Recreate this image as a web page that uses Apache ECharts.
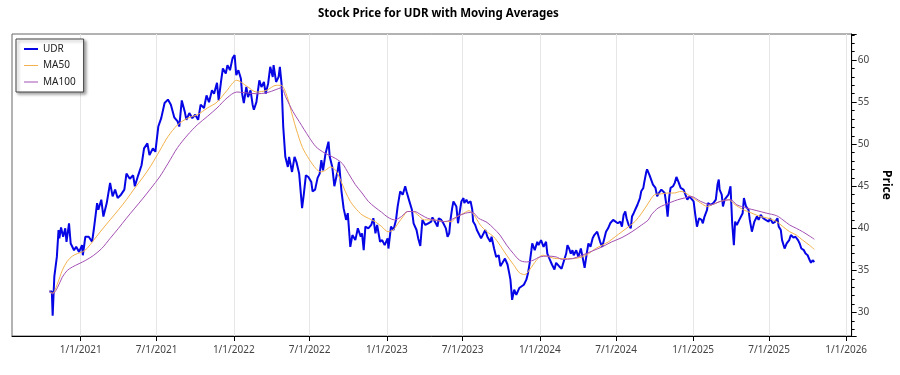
<!DOCTYPE html>
<html>
<head>
<meta charset="utf-8">
<title>UDR moving averages</title>
<script src="https://cdn.jsdelivr.net/npm/echarts@6/dist/echarts.min.js"></script>
<style>
  html, body { margin: 0; padding: 0; background: #fff; }
  #chart { width: 900px; height: 375px; }
</style>
</head>
<body>
<div id="chart"></div>
<script>
// closing prices (roughly one point every few days)
const udrDates = [
  "2020-10-18","2020-10-24","2020-10-26","2020-10-30","2020-11-03","2020-11-05","2020-11-09","2020-11-11","2020-11-15","2020-11-20",
  "2020-11-25","2020-11-28","2020-12-04","2020-12-08","2020-12-16","2020-12-21","2020-12-28","2021-01-04","2021-01-06","2021-01-12",
  "2021-01-20","2021-01-28","2021-02-01","2021-02-09","2021-02-12","2021-02-19","2021-02-24","2021-03-04","2021-03-12","2021-03-18",
  "2021-03-24","2021-03-30","2021-04-07","2021-04-15","2021-04-20","2021-04-28","2021-05-06","2021-05-10","2021-05-18","2021-05-26",
  "2021-06-01","2021-06-09","2021-06-14","2021-06-22","2021-06-28","2021-07-05","2021-07-12","2021-07-20","2021-07-28","2021-08-04",
  "2021-08-12","2021-08-20","2021-08-24","2021-08-30","2021-09-06","2021-09-10","2021-09-17","2021-09-24","2021-10-01","2021-10-08",
  "2021-10-14","2021-10-22","2021-10-28","2021-11-03","2021-11-10","2021-11-15","2021-11-22","2021-11-26","2021-12-02","2021-12-06",
  "2021-12-13","2021-12-17","2021-12-23","2021-12-29","2022-01-03","2022-01-07","2022-01-12","2022-01-18","2022-01-21","2022-01-25",
  "2022-01-31","2022-02-04","2022-02-10","2022-02-15","2022-02-18","2022-02-24","2022-03-03","2022-03-08","2022-03-14","2022-03-18",
  "2022-03-24","2022-03-29","2022-04-04","2022-04-06","2022-04-12","2022-04-18","2022-04-21","2022-04-25","2022-04-29","2022-05-04",
  "2022-05-10","2022-05-13","2022-05-20","2022-05-26","2022-05-31","2022-06-06","2022-06-13","2022-06-17","2022-06-22","2022-06-28",
  "2022-07-05","2022-07-08","2022-07-14","2022-07-20","2022-07-25","2022-07-29","2022-08-02","2022-08-08","2022-08-15","2022-08-18",
  "2022-08-24","2022-08-29","2022-09-06","2022-09-09","2022-09-15","2022-09-20","2022-09-26","2022-09-30","2022-10-06","2022-10-11",
  "2022-10-18","2022-10-24","2022-10-31","2022-11-03","2022-11-07","2022-11-11","2022-11-18","2022-11-25","2022-11-30","2022-12-05",
  "2022-12-09","2022-12-16","2022-12-21","2022-12-27","2023-01-03","2023-01-05","2023-01-11","2023-01-17","2023-01-23","2023-01-27",
  "2023-02-02","2023-02-08","2023-02-14","2023-02-17","2023-02-24","2023-03-02","2023-03-06","2023-03-13","2023-03-17","2023-03-22",
  "2023-03-27","2023-04-03","2023-04-10","2023-04-17","2023-04-20","2023-04-28","2023-05-02","2023-05-05","2023-05-11","2023-05-16",
  "2023-05-22","2023-05-26","2023-05-30","2023-06-02","2023-06-06","2023-06-09","2023-06-16","2023-06-20","2023-06-23","2023-06-28",
  "2023-07-03","2023-07-05","2023-07-10","2023-07-14","2023-07-20","2023-07-24","2023-07-26","2023-07-31","2023-08-04","2023-08-08",
  "2023-08-14","2023-08-18","2023-08-24","2023-08-29","2023-09-05","2023-09-08","2023-09-14","2023-09-19","2023-09-25","2023-09-29",
  "2023-10-04","2023-10-10","2023-10-16","2023-10-20","2023-10-23","2023-10-27","2023-11-01","2023-11-06","2023-11-13","2023-11-17",
  "2023-11-24","2023-11-30","2023-12-04","2023-12-08","2023-12-12","2023-12-14","2023-12-20","2023-12-26","2023-12-29","2024-01-04",
  "2024-01-10","2024-01-16","2024-01-19","2024-01-24","2024-01-30","2024-02-05","2024-02-09","2024-02-16","2024-02-22","2024-02-28",
  "2024-03-04","2024-03-07","2024-03-11","2024-03-15","2024-03-19","2024-03-22","2024-03-28","2024-04-02","2024-04-08","2024-04-12",
  "2024-04-17","2024-04-22","2024-04-26","2024-05-01","2024-05-06","2024-05-10","2024-05-17","2024-05-21","2024-05-24","2024-05-29",
  "2024-06-03","2024-06-07","2024-06-12","2024-06-17","2024-06-24","2024-06-28","2024-07-05","2024-07-11","2024-07-15","2024-07-19",
  "2024-07-23","2024-07-26","2024-07-31","2024-08-05","2024-08-08","2024-08-12","2024-08-16","2024-08-21","2024-08-27","2024-08-30",
  "2024-09-04","2024-09-06","2024-09-11","2024-09-13","2024-09-19","2024-09-23","2024-09-27","2024-10-03","2024-10-07","2024-10-11",
  "2024-10-17","2024-10-21","2024-10-25","2024-10-29","2024-11-01","2024-11-05","2024-11-08","2024-11-14","2024-11-18","2024-11-22",
  "2024-11-27","2024-12-02","2024-12-09","2024-12-13","2024-12-18","2024-12-23","2024-12-26","2025-01-02","2025-01-06","2025-01-10",
  "2025-01-15","2025-01-21","2025-01-24","2025-01-28","2025-02-03","2025-02-05","2025-02-12","2025-02-18","2025-02-24","2025-02-28",
  "2025-03-03","2025-03-05","2025-03-10","2025-03-13","2025-03-17","2025-03-21","2025-03-26","2025-03-31","2025-04-02","2025-04-04",
  "2025-04-08","2025-04-11","2025-04-15","2025-04-21","2025-04-25","2025-04-29","2025-05-02","2025-05-07","2025-05-13","2025-05-16",
  "2025-05-21","2025-05-27","2025-06-02","2025-06-06","2025-06-11","2025-06-17","2025-06-23","2025-06-30","2025-07-03","2025-07-10",
  "2025-07-16","2025-07-21","2025-07-24","2025-07-29","2025-08-01","2025-08-07","2025-08-12","2025-08-18","2025-08-22","2025-08-28",
  "2025-09-02","2025-09-08","2025-09-12","2025-09-16","2025-09-22","2025-09-26","2025-10-01","2025-10-06","2025-10-09","2025-10-13",
  "2025-10-17"
];
const udrPrices = [
  32.5,32.5,29.6,34.3,34.5,36.6,39.8,38.8,40.1,39.0,
  40.0,38.4,40.6,38.2,37.4,37.8,37.2,38.0,36.8,39.0,
  39.0,38.4,39.8,43.0,42.2,43.4,41.4,43.0,45.4,43.8,
  44.6,43.6,44.0,44.6,46.5,45.9,46.3,45.0,46.3,47.5,
  49.5,50.1,48.7,49.5,49.1,52.1,53.1,54.9,55.3,54.7,
  53.2,52.7,52.1,55.2,53.9,52.9,53.7,53.1,53.5,52.9,
  54.7,54.3,55.8,55.0,56.4,56.0,57.3,55.2,57.6,59.0,
  58.4,59.4,58.8,60.2,60.6,58.2,58.8,57.8,56.0,54.9,
  56.8,55.6,56.4,54.7,54.1,55.0,57.6,56.8,57.4,56.0,
  57.2,59.2,58.0,59.4,57.4,58.0,59.2,57.2,52.1,48.5,
  47.3,48.5,46.7,48.5,47.8,46.5,42.4,44.0,46.3,46.1,
  45.5,44.4,44.6,46.0,46.5,48.1,46.9,48.9,50.3,48.5,
  47.3,45.0,46.9,47.9,44.4,42.4,41.0,41.8,37.8,39.2,
  38.6,40.0,39.0,39.4,37.4,40.2,40.0,40.4,41.2,39.4,
  40.4,38.4,38.6,38.0,38.8,37.6,40.2,39.8,41.0,42.6,
  44.4,44.0,45.0,44.4,43.2,42.2,40.6,39.8,38.8,37.9,
  41.0,40.4,40.6,40.8,41.3,40.6,40.2,41.2,41.0,40.6,
  40.0,39.0,39.4,41.0,42.4,43.2,42.6,40.6,41.6,43.2,
  43.6,43.0,43.4,43.0,43.2,42.2,40.8,40.4,39.8,40.0,
  38.8,38.6,39.8,39.0,38.4,39.0,37.6,36.6,36.8,35.5,
  35.9,36.4,35.7,34.7,33.9,31.5,32.7,32.1,32.9,33.1,
  33.3,33.9,34.7,35.9,37.4,38.2,37.4,38.4,38.0,38.6,
  37.8,38.4,37.0,36.4,35.7,35.1,35.9,35.5,35.2,36.2,
  37.0,38.0,37.6,37.0,37.4,36.8,37.4,36.6,37.6,36.6,
  35.3,37.0,38.2,37.8,38.8,39.2,39.6,39.4,38.4,37.8,
  38.8,39.6,40.0,40.6,41.0,40.9,40.6,40.8,40.2,41.6,
  42.0,41.2,40.4,40.0,41.4,41.8,41.6,42.8,43.6,44.4,
  44.8,45.4,46.7,47.0,46.3,46.1,45.2,44.8,43.8,44.2,
  44.6,44.4,44.2,42.8,41.4,43.8,44.8,45.0,45.4,46.1,
  45.5,44.8,44.6,44.7,43.4,43.8,43.6,43.2,41.6,40.2,
  41.2,41.0,40.6,41.4,42.2,43.0,42.8,43.0,43.4,45.2,
  45.8,44.6,44.0,42.6,43.4,43.6,44.0,45.0,45.2,40.6,
  38.0,40.8,40.4,41.0,41.2,41.8,43.6,42.6,42.2,41.0,
  39.6,40.8,41.4,41.0,41.6,41.2,41.0,40.8,41.2,40.6,
  40.8,41.2,40.2,39.8,38.6,37.6,38.2,38.6,39.2,38.9,
  39.0,38.6,38.2,37.6,37.4,37.0,36.8,36.2,35.9,36.2,
  36.0
];

// 50 day moving average
const ma50Dates = [
  "2020-10-18","2020-10-26","2020-11-07","2020-11-18","2020-11-30","2020-12-12","2020-12-24","2021-01-05","2021-01-16","2021-02-01",
  "2021-02-20","2021-03-12","2021-04-01","2021-04-20","2021-05-10","2021-05-30","2021-06-18","2021-07-08","2021-07-28","2021-08-20",
  "2021-09-13","2021-10-06","2021-10-30","2021-11-22","2021-12-16","2022-01-08","2022-02-01","2022-02-24","2022-03-20","2022-04-12",
  "2022-04-24","2022-05-06","2022-05-22","2022-05-30","2022-06-14","2022-06-30","2022-07-16","2022-07-28","2022-08-08","2022-08-20",
  "2022-09-01","2022-09-13","2022-09-24","2022-10-06","2022-10-18","2022-11-03","2022-11-18","2022-12-04","2022-12-20","2023-01-04",
  "2023-01-16","2023-01-28","2023-02-09","2023-02-20","2023-03-04","2023-03-16","2023-04-01","2023-04-24","2023-05-18","2023-06-03",
  "2023-06-18","2023-07-04","2023-07-16","2023-07-28","2023-08-12","2023-08-28","2023-09-13","2023-09-28","2023-10-14","2023-10-30",
  "2023-11-14","2023-11-26","2023-12-08","2023-12-24","2024-01-08","2024-01-24","2024-02-09","2024-02-24","2024-03-19","2024-04-11",
  "2024-04-27","2024-05-13","2024-05-29","2024-06-13","2024-06-29","2024-07-15","2024-07-31","2024-08-15","2024-08-31","2024-09-16",
  "2024-10-01","2024-10-17","2024-11-02","2024-11-17","2024-12-03","2024-12-26","2025-01-19","2025-02-04","2025-02-19","2025-03-07",
  "2025-03-27","2025-04-11","2025-05-01","2025-05-21","2025-06-10","2025-06-29","2025-07-19","2025-08-03","2025-08-19","2025-09-04",
  "2025-09-19","2025-10-05","2025-10-17"
];
const ma50Values = [
  32.5,32.3,33.5,35.0,36.1,36.7,37.0,37.2,37.6,38.6,
  39.8,41.0,42.2,43.4,44.8,46.1,47.5,49.2,50.9,52.3,
  53.1,53.5,54.3,55.0,56.4,57.6,56.9,56.2,56.4,57.0,
  57.0,56.0,53.2,51.8,49.6,48.2,47.1,46.7,46.9,47.3,
  46.9,45.7,44.4,43.2,42.4,41.6,41.2,40.8,40.2,39.6,
  39.8,40.6,41.4,42.0,42.0,41.6,41.0,41.0,40.8,40.8,
  41.4,41.8,42.1,41.6,40.4,39.6,39.0,38.0,36.8,35.7,
  34.7,34.5,35.1,36.2,36.8,36.6,36.4,36.4,36.4,36.6,
  37.0,37.6,38.0,38.4,39.0,39.6,40.2,40.8,41.8,43.0,
  44.0,44.1,44.2,44.2,44.4,43.8,43.0,42.6,42.9,43.2,
  43.4,42.8,42.2,41.8,41.4,41.2,40.8,40.2,39.6,39.2,
  38.6,38.0,37.5
];

// 100 day moving average
const ma100Dates = [
  "2020-10-18","2020-10-26","2020-11-07","2020-11-18","2020-11-30","2020-12-12","2020-12-28","2021-01-13","2021-02-01","2021-02-20",
  "2021-03-12","2021-04-01","2021-04-20","2021-05-10","2021-05-30","2021-06-18","2021-07-08","2021-07-28","2021-08-20","2021-09-13",
  "2021-10-06","2021-10-30","2021-11-22","2021-12-16","2022-01-08","2022-02-01","2022-02-24","2022-03-20","2022-04-12","2022-04-24",
  "2022-05-06","2022-05-22","2022-06-06","2022-06-30","2022-07-16","2022-08-01","2022-08-16","2022-09-01","2022-09-17","2022-10-02",
  "2022-10-18","2022-11-03","2022-11-18","2022-12-04","2022-12-20","2023-01-04","2023-01-20","2023-02-05","2023-02-20","2023-03-08",
  "2023-03-24","2023-04-08","2023-04-24","2023-05-18","2023-06-03","2023-06-18","2023-07-08","2023-07-24","2023-08-08","2023-08-28",
  "2023-09-13","2023-09-28","2023-10-14","2023-10-30","2023-11-14","2023-11-30","2023-12-16","2024-01-01","2024-01-20","2024-02-09",
  "2024-02-24","2024-03-19","2024-04-11","2024-05-05","2024-05-29","2024-06-21","2024-07-15","2024-08-08","2024-08-31","2024-09-16",
  "2024-09-23","2024-10-09","2024-10-25","2024-11-09","2024-11-25","2024-12-11","2024-12-26","2025-01-19","2025-02-12","2025-03-07",
  "2025-03-31","2025-04-15","2025-05-09","2025-06-02","2025-06-25","2025-07-19","2025-08-03","2025-08-19","2025-09-04","2025-09-19",
  "2025-10-05","2025-10-17"
];
const ma100Values = [
  32.5,32.2,33.0,34.2,35.0,35.4,35.8,36.2,36.8,37.6,
  38.8,40.0,41.2,42.4,43.6,44.8,46.1,47.7,49.6,51.1,
  52.3,53.3,54.3,55.5,56.2,56.1,56.0,56.1,56.5,56.7,
  55.5,53.9,52.7,50.8,49.7,49.1,48.7,48.3,47.7,46.5,
  45.2,44.2,43.2,42.5,41.9,41.3,41.0,41.4,42.0,42.0,
  41.6,41.2,41.0,40.8,41.0,41.4,41.8,41.9,41.2,40.7,
  40.0,39.2,38.0,37.0,36.2,36.0,36.2,36.6,36.7,36.6,
  36.3,36.4,36.8,37.3,37.8,38.4,38.9,39.6,40.4,41.0,
  41.6,42.4,42.8,43.1,43.4,43.6,43.8,43.2,42.8,43.2,
  43.4,42.8,42.4,42.1,41.8,41.5,41.0,40.4,40.0,39.6,
  39.1,38.7
];

// x axis ticks and visible window
const xTickDates = ["2021-01-01","2021-07-01","2022-01-01","2022-07-01","2023-01-01","2023-07-01",
                    "2024-01-01","2024-07-01","2025-01-01","2025-07-01","2026-01-01"];
const xStart = "2020-07-21";
const xEnd = "2026-01-14";

function toTime(s) {
  var p = s.split("-");
  return new Date(+p[0], +p[1] - 1, +p[2]).getTime();
}
function pairs(dates, vals) {
  return dates.map(function (d, i) { return [toTime(d), vals[i]]; });
}

var chart = echarts.init(document.getElementById("chart"));
var font = "'Noto Sans', 'Open Sans', sans-serif";
var xTicks = xTickDates.map(toTime);

// legend swatches are plain line segments (thick for the price, thin for the averages)
var thickLine = "path://M0,0h14v2h-14z";
var thinLine = "path://M0,0h14v1h-14z";

var option = {
  animation: false,
  backgroundColor: "#fff",
  textStyle: { fontFamily: font },
  title: {
    text: "Stock Price for UDR with Moving Averages",
    left: 318,
    top: 8,
    padding: 0,
    textStyle: { fontSize: 11.5, fontWeight: "bold", color: "#000", fontFamily: font }
  },
  legend: {
    orient: "vertical",
    left: 16,
    top: 39,
    padding: [5, 8, 5, 8],
    itemGap: 6.5,
    itemWidth: 14,
    itemHeight: 10,
    backgroundColor: "#fff",
    borderColor: "#444",
    borderWidth: 1,
    borderRadius: 0,
    shadowColor: "rgba(0,0,0,0.35)",
    shadowBlur: 3,
    shadowOffsetX: 2,
    shadowOffsetY: 2,
    textStyle: { fontSize: 10, color: "#222", fontFamily: font },
    data: [
      { name: "UDR", icon: thickLine },
      { name: "MA50", icon: thinLine },
      { name: "MA100", icon: thinLine }
    ]
  },
  grid: {
    left: 12,
    right: 37,
    top: 34,
    bottom: 39,
    show: true,
    borderColor: "#666",
    borderWidth: 1
  },
  // dates are drawn on a plain value axis (timestamps) so the half-year ticks can be fixed
  xAxis: {
    type: "value",
    min: toTime(xStart),
    max: toTime(xEnd),
    axisLine: { lineStyle: { color: "#000" } },
    axisTick: { customValues: xTicks, length: 5, lineStyle: { color: "#000" } },
    axisLabel: {
      customValues: xTicks,
      color: "#444",
      fontSize: 10,
      margin: 9,
      formatter: function (val) {
        var d = new Date(val);
        return (d.getMonth() + 1) + "/" + d.getDate() + "/" + d.getFullYear();
      }
    },
    splitLine: { show: true, lineStyle: { color: "#e6e6e6" } }
  },
  yAxis: {
    type: "value",
    position: "right",
    min: 27.2,
    max: 63.1,
    splitNumber: 7,
    name: "Price",
    nameLocation: "middle",
    nameRotate: -90,
    nameGap: 27,
    nameTextStyle: { fontSize: 12, fontWeight: "bold", color: "#000" },
    axisLine: { show: true, lineStyle: { color: "#000" } },
    axisTick: { show: true, length: 5, lineStyle: { color: "#000" } },
    minorTick: { show: true, splitNumber: 5, length: 3, lineStyle: { color: "#000" } },
    axisLabel: { showMinLabel: false, showMaxLabel: false, color: "#444", fontSize: 10, margin: 6 },
    splitLine: { show: false }
  },
  series: [
    {
      name: "UDR",
      type: "line",
      data: pairs(udrDates, udrPrices),
      symbol: "none",
      lineStyle: { color: "#0505e6", width: 2 },
      itemStyle: { color: "#0505e6" }
    },
    {
      name: "MA50",
      type: "line",
      data: pairs(ma50Dates, ma50Values),
      symbol: "none",
      smooth: 0.3,
      lineStyle: { color: "#f3b24c", width: 1 },
      itemStyle: { color: "#f3b24c" }
    },
    {
      name: "MA100",
      type: "line",
      data: pairs(ma100Dates, ma100Values),
      symbol: "none",
      smooth: 0.3,
      lineStyle: { color: "#a350b3", width: 1 },
      itemStyle: { color: "#a350b3" }
    }
  ]
};
chart.setOption(option);
</script>
</body>
</html>
